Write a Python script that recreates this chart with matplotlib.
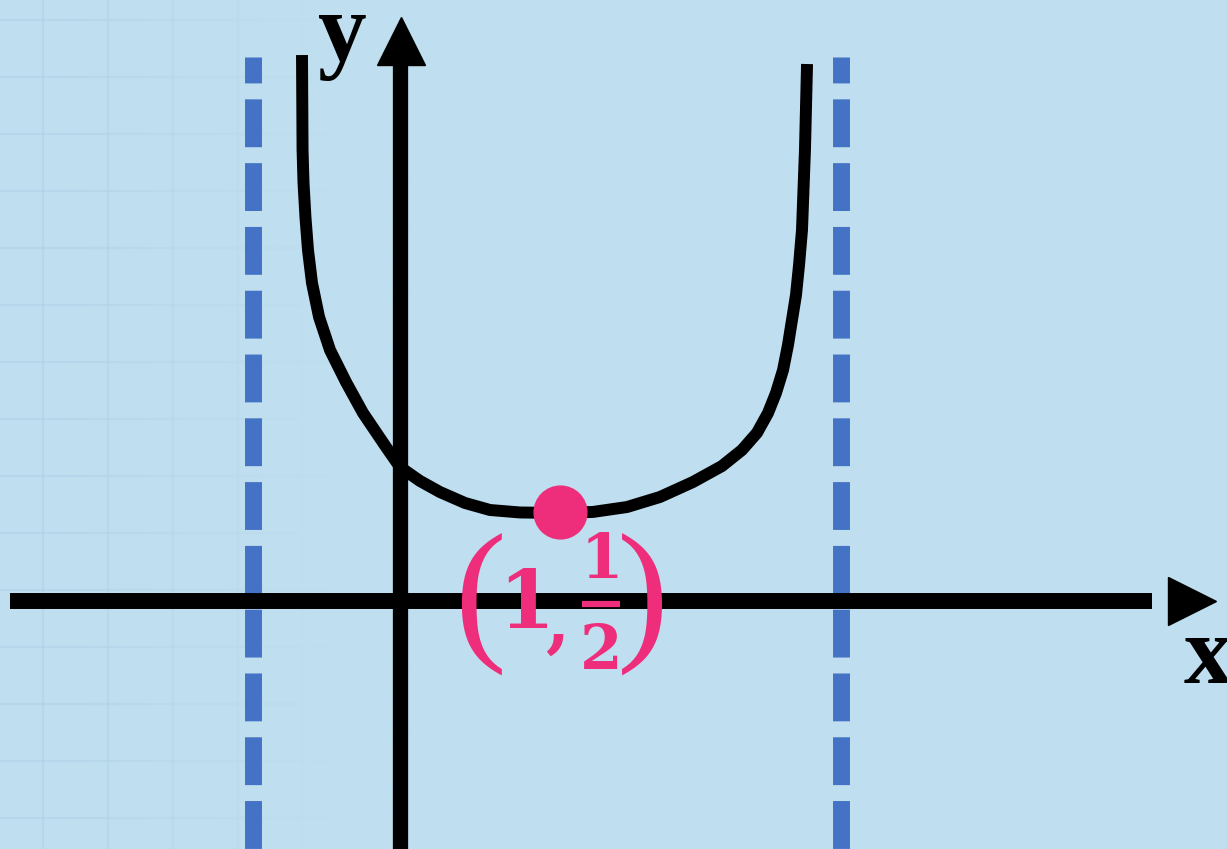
import matplotlib.pyplot as plt
import numpy as np

# curve (x units, y units)
curve_x = [-0.6125, -0.609, -0.603, -0.591, -0.575, -0.55, -0.506, -0.4375, -0.3375, -0.231,
           -0.0875, 0.0, 0.125, 0.25, 0.406, 0.5625, 0.75, 1.0,
           1.206, 1.419, 1.625, 1.831, 2.0125, 2.1375, 2.231, 2.3, 2.35, 2.394,
           2.425, 2.45, 2.475, 2.494, 2.5125, 2.531, 2.544]
curve_y = [3.102, 2.5625, 2.375, 2.182, 1.994, 1.807, 1.614, 1.426, 1.244, 1.068,
           0.875, 0.761, 0.682, 0.619, 0.557, 0.517, 0.503, 0.500,
           0.506, 0.534, 0.591, 0.676, 0.767, 0.858, 0.955, 1.068, 1.182, 1.3125,
           1.455, 1.597, 1.739, 1.909, 2.108, 2.5625, 3.051]

asym_x = [-0.916, 2.756]
min_pt = (1.0, 0.506)

bg = '#bfdff0'
pink = '#ee2d7b'
blue = '#4472c4'

fig = plt.figure(figsize=(12.27, 8.49), dpi=100, facecolor=bg)
ax = fig.add_axes([0, 0, 1, 1])
ax.set_facecolor(bg)
ax.axis('off')

# faint background grid, fading out to the right
for gx in np.arange(-2.23, 0.3, 65/160):
    ax.plot([gx, gx], [-1.5, 3.5], color='#a9cde4', lw=1.5, alpha=0.4, zorder=0)
for gy in np.arange(3.3, -1.5, -57/176):
    ax.plot([-2.5, 0.5], [gy, gy], color='#a9cde4', lw=1.5, alpha=0.4, zorder=0)
fade = np.zeros((2, 200, 4))
fade[..., :3] = np.array([0xbf, 0xdf, 0xf0]) / 255
fade[..., 3] = np.clip(np.linspace(-0.2, 1.6, 200), 0, 1)
ax.imshow(fade, extent=(-2.5, 0.6, -1.5, 3.5), aspect='auto', zorder=0.5)
ax.set_xlim(-2.5, 5.16875)
ax.set_ylim(-248/176, 601/176)

# asymptotes
for a in asym_x:
    ax.plot([a, a], [3.09, -1.5], color=blue, lw=12.2, solid_capstyle='butt',
            dash_capstyle='butt', linestyle=(22/17, (48/17, 16/17)), zorder=1)

# axes with arrow heads
ax.plot([-2.4375, 4.7], [0, 0], color='black', lw=11.5, solid_capstyle='butt', zorder=2)
ax.plot([4.95], [0], marker='>', color='black', markersize=34, zorder=2)
ax.plot([0, 0], [-1.5, 3.1], color='black', lw=11, solid_capstyle='butt', zorder=2)
ax.plot([0.005], [3.18], marker='^', color='black', markersize=34, zorder=2)

# curve
ax.plot(curve_x, curve_y, color='black', lw=8.6, solid_joinstyle='round',
        solid_capstyle='butt', zorder=3)

# minimum point
ax.plot([min_pt[0]], [min_pt[1]], 'o', color=pink, markersize=38, zorder=4)

# labels
ax.text(-0.36, 3.21, 'y', fontsize=70, fontweight='bold', family='Liberation Serif',
        ha='center', va='center', zorder=5)
ax.text(5.05, -0.33, 'x', fontsize=70, fontweight='bold', family='Liberation Serif',
        ha='center', va='center', zorder=5)

lab = dict(color=pink, family='DejaVu Serif', fontweight='bold', ha='center', va='center', zorder=5)
par = dict(color=pink, family='Liberation Serif', fontsize=112, ha='center', va='center', zorder=5)
ax.text(0.5, -0.02, '(', **par)
ax.text(1.52, -0.02, ')', **par)
ax.text(0.79, -0.03, '1', fontsize=58, **lab)
ax.text(0.98, -0.14, ',', fontsize=50, **lab)
ax.text(1.26, 0.23, '1', fontsize=44, **lab)
ax.plot([1.138, 1.375], [-0.017, -0.017], color=pink, lw=4.5, solid_capstyle='butt', zorder=5)
ax.text(1.258, -0.29, '2', fontsize=44, **lab)

plt.savefig('out.png', dpi=100, facecolor=bg)
